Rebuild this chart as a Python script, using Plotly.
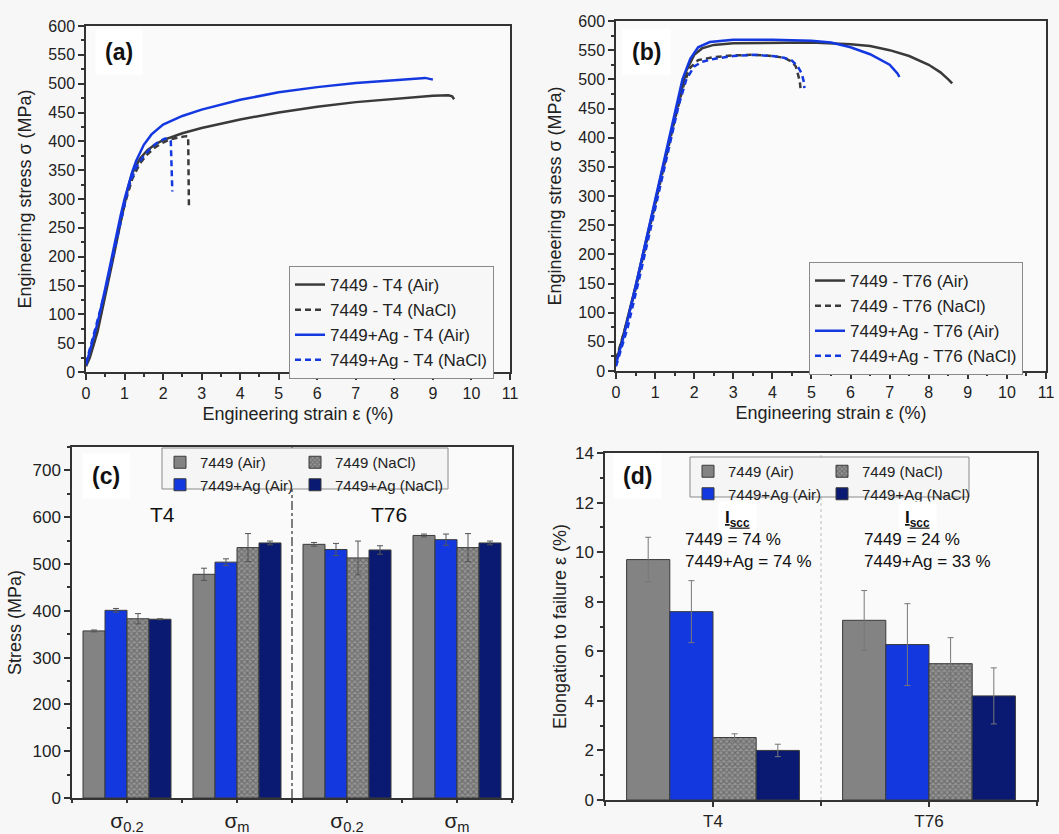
import plotly.graph_objects as go

# The page's body margin is removed (post_script), so the figure fills the window.
W, H = 1059, 834
def px(x): return x / W
def py(y): return 1 - y / H

FONT = "Liberation Sans, Arial, sans-serif"

# ---------------- data: panel (a) T4 tensile curves ----------------
a_air_x = [0, 0.1, 0.3, 0.5, 0.7, 0.9, 1.0, 1.1, 1.2, 1.4, 1.6, 1.8, 2.0, 2.5, 3, 4, 5, 6, 7, 8, 9, 9.4, 9.5, 9.55]
a_air_y = [10, 25, 70, 130, 195, 260, 292, 322, 345, 370, 385, 395, 402, 414, 423, 438, 450, 460, 468, 474, 479, 480, 478, 473]
a_nacl_x = [0, 0.2, 0.4, 0.6, 0.8, 1.0, 1.2, 1.4, 1.6, 1.8, 2.0, 2.2, 2.4, 2.6, 2.65, 2.66, 2.67]
a_nacl_y = [12, 50, 105, 170, 235, 290, 335, 362, 378, 390, 398, 404, 407, 409, 409, 350, 287]
a_ag_air_x = [0, 0.1, 0.3, 0.5, 0.7, 0.9, 1.0, 1.1, 1.2, 1.3, 1.5, 1.7, 2.0, 2.5, 3, 4, 5, 6, 7, 8, 8.8, 9.0]
a_ag_air_y = [12, 35, 85, 145, 210, 272, 300, 325, 347, 366, 394, 412, 429, 444, 455, 472, 485, 494, 501, 506, 510, 507]
a_ag_nacl_x = [0, 0.15, 0.3, 0.5, 0.7, 0.9, 1.1, 1.3, 1.5, 1.7, 1.9, 2.05, 2.15, 2.2, 2.22, 2.24]
a_ag_nacl_y = [15, 55, 90, 140, 200, 265, 320, 355, 375, 390, 400, 405, 404, 400, 360, 313]

# ---------------- data: panel (b) T76 tensile curves ----------------
b_air_x = [0, 0.2, 0.5, 1.0, 1.5, 1.8, 2.0, 2.2, 2.5, 3, 4, 5, 6, 6.5, 7, 7.5, 8, 8.3, 8.5, 8.6]
b_air_y = [15, 65, 145, 290, 435, 515, 542, 553, 559, 562, 563, 563, 560, 557, 550, 540, 525, 512, 500, 493]
b_nacl_x = [0, 0.2, 0.5, 1.0, 1.5, 1.75, 1.9, 2.1, 2.5, 3, 3.5, 4, 4.3, 4.5, 4.6, 4.65, 4.7, 4.72]
b_nacl_y = [20, 65, 140, 285, 430, 495, 520, 533, 538, 541, 542, 540, 537, 530, 522, 510, 497, 485]
b_ag_air_x = [0, 0.2, 0.5, 1.0, 1.5, 1.7, 1.9, 2.1, 2.4, 3, 4, 5, 5.5, 6, 6.5, 7, 7.2, 7.25]
b_ag_air_y = [12, 60, 145, 295, 445, 500, 535, 555, 564, 568, 568, 566, 563, 555, 543, 525, 510, 504]
b_ag_nacl_x = [0, 0.3, 0.6, 1.0, 1.3, 1.6, 1.8, 1.9, 2.0, 2.2, 2.5, 3, 3.5, 4, 4.3, 4.5, 4.65, 4.75, 4.8, 4.82]
b_ag_nacl_y = [8, 75, 160, 280, 370, 455, 500, 512, 522, 530, 535, 540, 542, 540, 537, 532, 522, 510, 497, 485]

# ---------------- data: panel (c) stresses ----------------
c_pos = [0, 1, 2, 3]
c_ticktext = ["σ<sub>0.2</sub>", "σ<sub>m</sub>", "σ<sub>0.2</sub>", "σ<sub>m</sub>"]
c_air = [357, 478, 542, 561]
c_air_err = [2, 13, 4, 3]
c_ag_air = [401, 504, 531, 552]
c_ag_air_err = [4, 7, 13, 12]
c_nacl = [383, 535, 513, 535]
c_nacl_err = [11, 30, 36, 30]
c_ag_nacl = [382, 545, 530, 545]
c_ag_nacl_err = [1, 4, 9, 4]

# ---------------- data: panel (d) elongation ----------------
d_pos = [0, 1]
d_ticktext = ["T4", "T76"]
d_air = [9.7, 7.25]
d_air_err = [0.9, 1.2]
d_ag_air = [7.6, 6.27]
d_ag_air_err = [1.25, 1.65]
d_nacl = [2.52, 5.5]
d_nacl_err = [0.15, 1.05]
d_ag_nacl = [2.0, 4.2]
d_ag_nacl_err = [0.25, 1.13]

BLACK = "#3a3a3a"
BLUE = "#1438e0"
GRAY = "#838383"
NAVY = "#0a1a72"

fig = go.Figure()

def curve(x, y, name, color, dash, xa, ya, legend):
    fig.add_trace(go.Scatter(x=x, y=y, mode="lines", name=name,
                             line=dict(color=color, width=2.5, dash=dash),
                             xaxis=xa, yaxis=ya, legend=legend))

DASH = "6px,4px"
curve(a_air_x, a_air_y, "7449 - T4 (Air)", BLACK, "solid", "x", "y", "legend")
curve(a_nacl_x, a_nacl_y, "7449 - T4 (NaCl)", BLACK, DASH, "x", "y", "legend")
curve(a_ag_air_x, a_ag_air_y, "7449+Ag - T4 (Air)", BLUE, "solid", "x", "y", "legend")
curve(a_ag_nacl_x, a_ag_nacl_y, "7449+Ag - T4 (NaCl)", BLUE, DASH, "x", "y", "legend")

curve(b_air_x, b_air_y, "7449 - T76 (Air)", BLACK, "solid", "x2", "y2", "legend2")
curve(b_nacl_x, b_nacl_y, "7449 - T76 (NaCl)", BLACK, DASH, "x2", "y2", "legend2")
curve(b_ag_air_x, b_ag_air_y, "7449+Ag - T76 (Air)", BLUE, "solid", "x2", "y2", "legend2")
curve(b_ag_nacl_x, b_ag_nacl_y, "7449+Ag - T76 (NaCl)", BLUE, DASH, "x2", "y2", "legend2")

def bar_marker(kind):
    line = dict(color="#3a3a3a", width=1)
    if kind == "air":
        return dict(color=GRAY, line=line)
    if kind == "ag_air":
        return dict(color=BLUE, line=line)
    if kind == "nacl":
        return dict(color="#8c8c8c", line=line,
                    pattern=dict(shape="x", size=4, solidity=0.5,
                                 fgcolor="#454545", bgcolor="#949494"))
    return dict(color=NAVY, line=line)

def bars(x, y, err, name, kind, xa, ya, legend, ecol, og):
    fig.add_trace(go.Bar(x=x, y=y, name=name, marker=bar_marker(kind),
                         error_y=dict(type="data", array=err, color=ecol, thickness=1, width=3),
                         xaxis=xa, yaxis=ya, legend=legend, offsetgroup=og))

bars(c_pos, c_air, c_air_err, "7449 (Air)", "air", "x3", "y3", "legend3", "#555", "1")
bars(c_pos, c_ag_air, c_ag_air_err, "7449+Ag (Air)", "ag_air", "x3", "y3", "legend3", "#555", "2")
bars(c_pos, c_nacl, c_nacl_err, "7449 (NaCl)", "nacl", "x3", "y3", "legend4", "#555", "3")
bars(c_pos, c_ag_nacl, c_ag_nacl_err, "7449+Ag (NaCl)", "ag_nacl", "x3", "y3", "legend4", "#555", "4")

bars(d_pos, d_air, d_air_err, "7449 (Air)", "air", "x4", "y4", "legend5", "#777", "1")
bars(d_pos, d_ag_air, d_ag_air_err, "7449+Ag (Air)", "ag_air", "x4", "y4", "legend5", "#777", "2")
bars(d_pos, d_nacl, d_nacl_err, "7449 (NaCl)", "nacl", "x4", "y4", "legend6", "#777", "3")
bars(d_pos, d_ag_nacl, d_ag_nacl_err, "7449+Ag (NaCl)", "ag_nacl", "x4", "y4", "legend6", "#777", "4")

AX = dict(showgrid=False, zeroline=False, showline=True, mirror=True, automargin=False,
          linecolor="#333", linewidth=1.5, ticks="outside", ticklen=6,
          tickwidth=1.5, tickcolor="#333", color="#222")

def mkax(domain, anchor, rng, dtick, minor_dtick, axtitle, tickfont, standoff=6, **kw):
    d = dict(AX, domain=domain, anchor=anchor, range=rng,
             tickfont=dict(size=tickfont, family=FONT, color="#222"))
    if minor_dtick:
        d["minor"] = dict(ticks="outside", ticklen=3, tickcolor="#333", dtick=minor_dtick)
    if dtick is not None:
        d["dtick"] = dtick
    if axtitle:
        d["title"] = dict(text=axtitle, font=dict(size=18, family=FONT, color="#222"), standoff=standoff)
    d.update(kw)
    return d

layout = dict(
    width=W, height=H, margin=dict(l=0, r=0, t=0, b=0, autoexpand=False),
    paper_bgcolor="#f7f7f7", plot_bgcolor="#fafafa",
    font=dict(family=FONT, color="#222"),
    barmode="group", bargap=0.2, bargroupgap=0,
    xaxis=mkax([px(86), px(510)], "y", [0, 11], 1, 0.5, "Engineering strain ε (%)", 16),
    yaxis=mkax([py(372), py(26)], "x", [0, 600], 50, 25, "Engineering stress σ (MPa)", 16, standoff=12),
    xaxis2=mkax([px(616), px(1046)], "y2", [0, 11], 1, 0.5, "Engineering strain ε (%)", 16),
    yaxis2=mkax([py(371), py(21)], "x2", [0, 600], 50, 25, "Engineering stress σ (MPa)", 16, standoff=12),
    xaxis3=mkax([px(72), px(512)], "y3", [-0.5, 3.5], None, None, None, 21,
                tickmode="array", tickvals=c_pos, ticktext=c_ticktext, ticklen=3,
                minor=dict(ticks="outside", ticklen=3, tickcolor="#333", tick0=0.5, dtick=1)),
    yaxis3=mkax([py(798), py(447)], "x3", [0, 750], 100, 50, "Stress (MPa)", 17, standoff=6),
    xaxis4=mkax([px(605), px(1037)], "y4", [-0.5, 1.5], None, None, None, 17,
                tickmode="array", tickvals=d_pos, ticktext=d_ticktext, ticklen=5,
                minor=dict(ticks="outside", ticklen=4, tickcolor="#333", tick0=0.5, dtick=1)),
    yaxis4=mkax([py(800), py(453)], "x4", [0, 14], 2, 1, "Elongation to failure ε (%)", 17, standoff=4),
)

LEG_LINE = dict(bgcolor="#f7f7f7", bordercolor="#8a8a8a", borderwidth=1,
                font=dict(size=17, family=FONT, color="#222"),
                xanchor="left", yanchor="top", tracegroupgap=0)
layout["legend"] = dict(LEG_LINE, x=px(289), y=py(266))
layout["legend2"] = dict(LEG_LINE, x=px(809), y=py(262))
LEG_BAR = dict(bgcolor="rgba(0,0,0,0)", borderwidth=0,
               font=dict(size=15, family=FONT, color="#222"),
               xanchor="left", yanchor="top", tracegroupgap=0, itemwidth=30)
layout["legend3"] = dict(LEG_BAR, x=px(160), y=py(446))
layout["legend4"] = dict(LEG_BAR, x=px(295), y=py(446))
layout["legend5"] = dict(LEG_BAR, x=px(688), y=py(455))
layout["legend6"] = dict(LEG_BAR, x=px(822), y=py(455))

shapes = [
    dict(type="rect", xref="paper", yref="paper", x0=px(162), x1=px(448), y0=py(489), y1=py(448),
         line=dict(color="#8a8a8a", width=1), fillcolor="#f5f5f5", layer="above"),
    dict(type="rect", xref="paper", yref="paper", x0=px(690), x1=px(969), y0=py(497), y1=py(457),
         line=dict(color="#8a8a8a", width=1), fillcolor="#f5f5f5", layer="above"),
    dict(type="line", xref="x3", yref="y3 domain", x0=1.5, x1=1.5, y0=0, y1=1,
         line=dict(color="#555", width=1.5, dash="dashdot"), layer="below"),
    dict(type="line", xref="x4", yref="y4 domain", x0=0.5, x1=0.5, y0=0, y1=1,
         line=dict(color="#bbbbbb", width=1, dash="dot"), layer="below"),
]
layout["shapes"] = shapes

def lab(text, x, y):
    return dict(text=f"<b>{text}</b>", xref="paper", yref="paper", x=px(x), y=py(y),
                showarrow=False, font=dict(size=23, family=FONT, color="#111"),
                bgcolor="white", borderpad=9, xanchor="center", yanchor="middle")

ann = [
    lab("(a)", 119, 52), lab("(b)", 646, 52), lab("(c)", 106, 476), lab("(d)", 637, 476),
    dict(text="T4", xref="x3", yref="y3", x=0.32, y=605, showarrow=False,
         font=dict(size=21, family=FONT, color="#111")),
    dict(text="T76", xref="x3", yref="y3", x=2.38, y=605, showarrow=False,
         font=dict(size=21, family=FONT, color="#111")),
    dict(text="<b><u>I<sub>scc</sub></u></b>", xref="x4", yref="y4", x=0.115, y=11.35, showarrow=False,
         font=dict(size=17, family=FONT, color="#111"), bgcolor="white", borderpad=6),
    dict(text="<b><u>I<sub>scc</sub></u></b>", xref="x4", yref="y4", x=0.945, y=11.35, showarrow=False,
         font=dict(size=17, family=FONT, color="#111"), bgcolor="white", borderpad=6),
    dict(text="7449 = 74 %<br>7449+Ag = 74 %", xref="x4", yref="y4", x=-0.14, y=10.05,
         xanchor="left", align="left", showarrow=False, font=dict(size=17, family=FONT, color="#111")),
    dict(text="7449 = 24 %<br>7449+Ag = 33 %", xref="x4", yref="y4", x=0.69, y=10.05,
         xanchor="left", align="left", showarrow=False, font=dict(size=17, family=FONT, color="#111")),
]
layout["annotations"] = ann

fig.update_layout(**layout)
fig.write_html("out.html", config={"displayModeBar": False},
               post_script="document.documentElement.style.margin='0';"
                           "document.body.style.margin='0';"
                           "document.body.style.overflow='hidden';")
